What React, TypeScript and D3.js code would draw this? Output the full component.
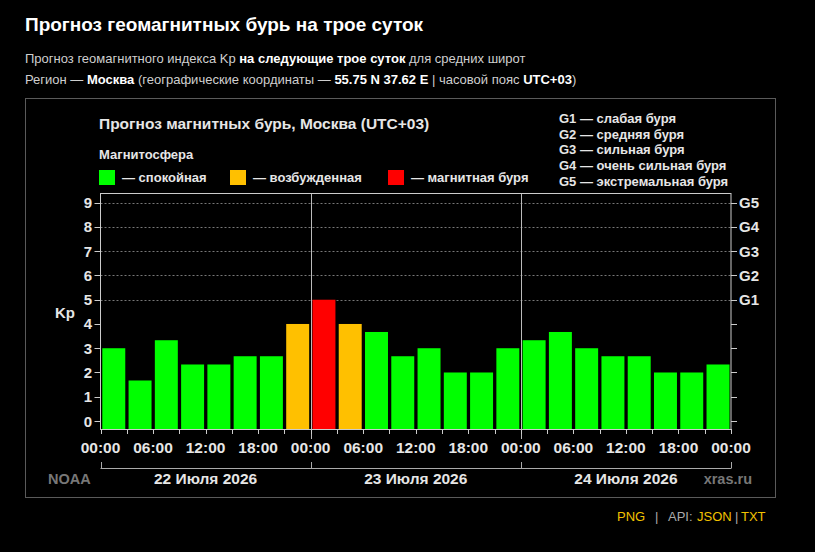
import React, { useRef, useEffect } from "react";
import * as d3 from "d3";

// Kp forecast, 3-hour intervals, 22-24 July 2026
const kpValues = [3, 1.67, 3.33, 2.33, 2.33, 2.67, 2.67, 4, 5, 4, 3.67, 2.67, 3, 2, 2, 3, 3.33, 3.67, 3, 2.67, 2.67, 2, 2, 2.33];
const kpTicks = [0, 1, 2, 3, 4, 5, 6, 7, 8, 9];
const gLevels = ["G1", "G2", "G3", "G4", "G5"];
const gLegend = ["G1 — слабая буря", "G2 — средняя буря", "G3 — сильная буря", "G4 — очень сильная буря", "G5 — экстремальная буря"];
const timeLabels = ["00:00", "06:00", "12:00", "18:00", "00:00", "06:00", "12:00", "18:00", "00:00", "06:00", "12:00", "18:00", "00:00"];
const dayLabels = ["22 Июля 2026", "23 Июля 2026", "24 Июля 2026"];
const stateLegend = [
    { label: "— спокойная", color: "#00ff00" },
    { label: "— возбужденная", color: "#ffc000" },
    { label: "— магнитная буря", color: "#ff0000" },
];
const footerLinks = [
    { label: "PNG", color: "#f2c200", x: 617 },
    { label: "|", color: "#aaa", x: 655 },
    { label: "API:", color: "#aaa", x: 668 },
    { label: "JSON", color: "#f2c200", x: 697 },
    { label: "|", color: "#aaa", x: 735 },
    { label: "TXT", color: "#f2c200", x: 741 },
];

const FONT = "'Liberation Sans', Arial, sans-serif";

const colorFor = (v: number) => (v >= 5 ? "#ff0000" : v >= 4 ? "#ffc000" : "#00ff00");

const KpChart = () => {
    const svgRef = useRef<SVGSVGElement>(null);

    useEffect(() => {
        const svg = d3.select(svgRef.current);
        svg.selectAll("*").remove();

        const left = 100.5;
        const right = 731;
        const top = 193;
        const bottom = 429;

        const x = d3.scaleLinear().domain([0, 72]).range([left, right]);
        const y = d3.scaleLinear().domain([0, 9]).range([421, 202.7]);

        // page header
        svg.append("text")
            .attr("x", 25).attr("y", 31)
            .attr("font-family", FONT).attr("font-size", 19).attr("font-weight", "bold")
            .attr("fill", "#fff")
            .text("Прогноз геомагнитных бурь на трое суток");

        const sub1 = svg.append("text")
            .attr("x", 25).attr("y", 63)
            .attr("font-family", FONT).attr("font-size", 13).attr("fill", "#cfcfcf");
        sub1.append("tspan").text("Прогноз геомагнитного индекса Kp ");
        sub1.append("tspan").attr("font-weight", "bold").attr("fill", "#fff").text("на следующие трое суток");
        sub1.append("tspan").text(" для средних широт");

        const sub2 = svg.append("text")
            .attr("x", 25).attr("y", 84)
            .attr("font-family", FONT).attr("font-size", 13).attr("fill", "#cfcfcf");
        sub2.append("tspan").text("Регион — ");
        sub2.append("tspan").attr("font-weight", "bold").attr("fill", "#fff").text("Москва");
        sub2.append("tspan").text(" (географические координаты — ");
        sub2.append("tspan").attr("font-weight", "bold").attr("fill", "#fff").text("55.75 N 37.62 E");
        sub2.append("tspan").text(" | часовой пояс ");
        sub2.append("tspan").attr("font-weight", "bold").attr("fill", "#fff").text("UTC+03");
        sub2.append("tspan").text(")");

        // chart frame
        svg.append("rect")
            .attr("x", 25.5).attr("y", 98.5).attr("width", 750).attr("height", 399)
            .attr("fill", "#000").attr("stroke", "#5a5a5a");

        svg.append("text")
            .attr("x", 99).attr("y", 129)
            .attr("font-family", FONT).attr("font-size", 15.5).attr("font-weight", "bold")
            .attr("fill", "#e6e6e6")
            .text("Прогноз магнитных бурь, Москва (UTC+03)");

        svg.append("text")
            .attr("x", 99).attr("y", 159)
            .attr("font-family", FONT).attr("font-size", 13).attr("font-weight", "bold")
            .attr("fill", "#e6e6e6")
            .text("Магнитосфера");

        const legendX = [99, 230, 388];
        stateLegend.forEach((d, i) => {
            svg.append("rect")
                .attr("x", legendX[i]).attr("y", 170).attr("width", 16).attr("height", 15)
                .attr("fill", d.color);
            svg.append("text")
                .attr("x", legendX[i] + 23).attr("y", 182)
                .attr("font-family", FONT).attr("font-size", 13).attr("font-weight", "bold")
                .attr("fill", "#e6e6e6")
                .text(d.label);
        });

        svg.selectAll("text.glegend")
            .data(gLegend)
            .enter()
            .append("text")
            .attr("class", "glegend")
            .attr("x", 559).attr("y", (d, i) => 123 + i * 15.7)
            .attr("font-family", FONT).attr("font-size", 13).attr("font-weight", "bold")
            .attr("fill", "#e6e6e6")
            .text((d) => d);

        // gridlines at storm levels
        svg.selectAll("line.grid")
            .data([5, 6, 7, 8, 9])
            .enter()
            .append("line")
            .attr("class", "grid")
            .attr("x1", left).attr("x2", right)
            .attr("y1", (d) => Math.round(y(d)) + 0.5).attr("y2", (d) => Math.round(y(d)) + 0.5)
            .attr("stroke", "#777").attr("stroke-dasharray", "2,2");

        // bars
        const step = x(3) - x(0);
        svg.selectAll("rect.bar")
            .data(kpValues)
            .enter()
            .append("rect")
            .attr("class", "bar")
            .attr("x", (d, i) => x(i * 3) + 1.8)
            .attr("width", step - 3.3)
            .attr("y", (d) => y(d))
            .attr("height", (d) => bottom - y(d))
            .attr("fill", (d) => colorFor(d));

        // day separators
        svg.selectAll("line.day")
            .data([24, 48])
            .enter()
            .append("line")
            .attr("class", "day")
            .attr("x1", (d) => Math.round(x(d)) + 0.5).attr("x2", (d) => Math.round(x(d)) + 0.5)
            .attr("y1", top).attr("y2", bottom + 10)
            .attr("stroke", "#bbb");

        // plot box
        svg.append("rect")
            .attr("x", left).attr("y", top + 0.5).attr("width", right - left).attr("height", bottom - top)
            .attr("fill", "none").attr("stroke", "#ccc");

        // left axis
        const leftAxis = svg.append("g");
        leftAxis.selectAll("line")
            .data(kpTicks)
            .enter()
            .append("line")
            .attr("x1", left - 6).attr("x2", left)
            .attr("y1", (d) => Math.round(y(d)) + 0.5).attr("y2", (d) => Math.round(y(d)) + 0.5)
            .attr("stroke", "#ccc");
        leftAxis.selectAll("text")
            .data(kpTicks)
            .enter()
            .append("text")
            .attr("x", left - 8.5).attr("y", (d) => y(d) + 5.5)
            .attr("text-anchor", "end")
            .attr("font-family", FONT).attr("font-size", 15).attr("font-weight", "bold")
            .attr("fill", "#e6e6e6")
            .text((d) => d);

        svg.append("text")
            .attr("x", 55).attr("y", 318)
            .attr("font-family", FONT).attr("font-size", 15).attr("font-weight", "bold")
            .attr("fill", "#e6e6e6")
            .text("Kp");

        // right axis with G levels
        const rightAxis = svg.append("g");
        rightAxis.selectAll("line")
            .data(kpTicks)
            .enter()
            .append("line")
            .attr("x1", right).attr("x2", right + 6)
            .attr("y1", (d) => Math.round(y(d)) + 0.5).attr("y2", (d) => Math.round(y(d)) + 0.5)
            .attr("stroke", "#ccc");
        rightAxis.selectAll("text")
            .data(gLevels)
            .enter()
            .append("text")
            .attr("x", right + 8).attr("y", (d, i) => y(i + 5) + 5.5)
            .attr("font-family", FONT).attr("font-size", 15).attr("font-weight", "bold")
            .attr("fill", "#e6e6e6")
            .text((d) => d);

        // bottom ticks every 3 hours
        svg.selectAll("line.xtick")
            .data(d3.range(0, 73, 3))
            .enter()
            .append("line")
            .attr("class", "xtick")
            .attr("x1", (d) => Math.round(x(d)) + 0.5).attr("x2", (d) => Math.round(x(d)) + 0.5)
            .attr("y1", bottom).attr("y2", bottom + 5)
            .attr("stroke", "#ccc");

        svg.selectAll("text.xlabel")
            .data(timeLabels)
            .enter()
            .append("text")
            .attr("class", "xlabel")
            .attr("x", (d, i) => x(i * 6)).attr("y", 453)
            .attr("text-anchor", "middle")
            .attr("font-family", FONT).attr("font-size", 15.5).attr("font-weight", "bold")
            .attr("fill", "#e6e6e6")
            .text((d) => d);

        // day bracket
        svg.append("line")
            .attr("x1", left).attr("x2", right).attr("y1", 468.5).attr("y2", 468.5)
            .attr("stroke", "#aaa");
        svg.selectAll("line.dtick")
            .data([0, 24, 48, 72])
            .enter()
            .append("line")
            .attr("class", "dtick")
            .attr("x1", (d) => Math.round(x(d)) + 0.5).attr("x2", (d) => Math.round(x(d)) + 0.5)
            .attr("y1", 462).attr("y2", 468.5)
            .attr("stroke", "#aaa");

        svg.selectAll("text.day")
            .data(dayLabels)
            .enter()
            .append("text")
            .attr("class", "day")
            .attr("x", (d, i) => x(i * 24 + 12)).attr("y", 484)
            .attr("text-anchor", "middle")
            .attr("font-family", FONT).attr("font-size", 15.5).attr("font-weight", "bold")
            .attr("fill", "#e6e6e6")
            .text((d) => d);

        svg.append("text")
            .attr("x", 48).attr("y", 484)
            .attr("font-family", FONT).attr("font-size", 14.5).attr("font-weight", "bold")
            .attr("fill", "#777")
            .text("NOAA");
        svg.append("text")
            .attr("x", 752).attr("y", 484)
            .attr("text-anchor", "end")
            .attr("font-family", FONT).attr("font-size", 14.5).attr("font-weight", "bold")
            .attr("fill", "#777")
            .text("xras.ru");

        // footer links
        svg.selectAll("text.foot")
            .data(footerLinks)
            .enter()
            .append("text")
            .attr("class", "foot")
            .attr("x", (d) => d.x).attr("y", 521)
            .attr("font-family", FONT).attr("font-size", 13)
            .attr("fill", (d) => d.color)
            .text((d) => d.label);
    }, []);

    return (
        <svg
            ref={svgRef}
            width={815}
            height={552}
            style={{ position: "absolute", left: 0, top: 0, background: "#000", display: "block" }}
        />
    );
};

export default function App() {
    return <KpChart />;
}
